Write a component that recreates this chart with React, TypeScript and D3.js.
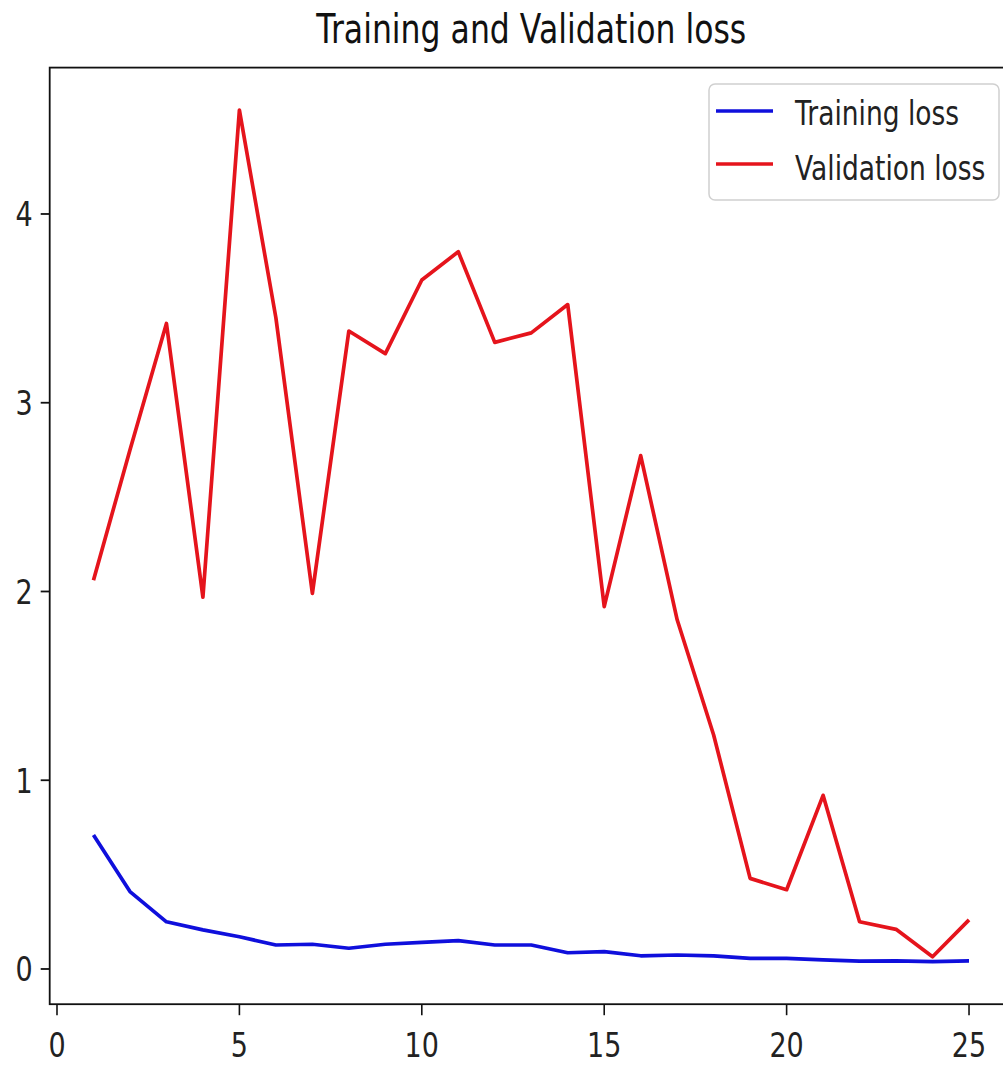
import * as d3 from "d3";

const epochs = [1, 2, 3, 4, 5, 6, 7, 8, 9, 10, 11, 12, 13, 14, 15, 16, 17, 18, 19, 20, 21, 22, 23, 24, 25];
const trainingLoss = [0.71, 0.41, 0.25, 0.207, 0.171, 0.127, 0.131, 0.11, 0.131, 0.141, 0.15, 0.127, 0.127, 0.086, 0.092, 0.07, 0.074, 0.069, 0.056, 0.056, 0.048, 0.042, 0.043, 0.039, 0.043];
const validationLoss = [2.06, 2.75, 3.42, 1.97, 4.55, 3.45, 1.99, 3.38, 3.26, 3.65, 3.8, 3.32, 3.37, 3.52, 1.92, 2.72, 1.85, 1.24, 0.48, 0.42, 0.92, 0.25, 0.21, 0.065, 0.26];
const xTicks = [0, 5, 10, 15, 20, 25];
const yTicks = [0, 1, 2, 3, 4];
const seriesNames = ["Training loss", "Validation loss"];
const seriesColors = ["#0f0fdc", "#e5141c"];

const W = 1003;
const H = 1066;
// the picture is stretched vertically, so text gets squashed back with this
const SY = 1.27;
const FONT = "DejaVu Sans, Liberation Sans, sans-serif";

export default function App() {
  // matplotlib style 5% margins
  const xPad = (d3.max(epochs)! - d3.min(epochs)!) * 0.05;
  const allY = [...trainingLoss, ...validationLoss];
  const yMin = d3.min(allY)!;
  const yMax = d3.max(allY)!;
  const yPad = (yMax - yMin) * 0.05;

  const xScale = d3
    .scaleLinear()
    .domain([d3.min(epochs)! - xPad, d3.max(epochs)! + xPad])
    .range([49.7, 1012.8]);
  const yScale = d3
    .scaleLinear()
    .domain([yMin - yPad, yMax + yPad])
    .range([1004.2, 67.6]);

  const line = d3
    .line<number>()
    .x((_, i) => xScale(epochs[i]))
    .y((d) => yScale(d));

  const [x0, x1] = xScale.range();
  const [yb, yt] = yScale.range();

  return (
    <svg width={W} height={H} style={{ position: "absolute", left: 0, top: 0, background: "#fff" }}>
      <rect x={0} y={0} width={W} height={H} fill="#fff" />

      {/* title */}
      <text
        transform={`translate(${(x0 + x1) / 2},43) scale(1,${SY})`}
        textAnchor="middle"
        fontFamily={FONT}
        fontSize={31.5}
        fill="#111"
      >
        Training and Validation loss
      </text>

      {/* series */}
      <path d={line(trainingLoss)!} fill="none" stroke={seriesColors[0]} strokeWidth={3.7} strokeLinejoin="round" />
      <path d={line(validationLoss)!} fill="none" stroke={seriesColors[1]} strokeWidth={3.7} strokeLinejoin="round" />

      {/* spines */}
      <rect x={x0} y={yt} width={x1 - x0} height={yb - yt} fill="none" stroke="#111" strokeWidth={1.8} />

      {/* x ticks */}
      {xTicks.map((t) => (
        <g key={"x" + t}>
          <line x1={xScale(t)} x2={xScale(t)} y1={yb} y2={yb + 11} stroke="#111" strokeWidth={1.6} />
          <text
            transform={`translate(${xScale(t)},${1057}) scale(1,${SY})`}
            textAnchor="middle"
            fontFamily={FONT}
            fontSize={27}
            fill="#222"
          >
            {t}
          </text>
        </g>
      ))}

      {/* y ticks */}
      {yTicks.map((t) => (
        <g key={"y" + t}>
          <line x1={x0 - 9} x2={x0} y1={yScale(t)} y2={yScale(t)} stroke="#111" strokeWidth={1.8} />
          <text
            transform={`translate(${x0 - 17},${yScale(t) + 12.5}) scale(1,${SY})`}
            textAnchor="end"
            fontFamily={FONT}
            fontSize={27}
            fill="#222"
          >
            {t}
          </text>
        </g>
      ))}

      {/* legend */}
      <g>
        <rect x={709} y={84} width={290} height={116} rx={6} fill="#fff" fillOpacity={0.8} stroke="#d0d0d0" strokeWidth={1.5} />
        {seriesNames.map((name, i) => (
          <g key={name}>
            <line x1={716} x2={773} y1={111 + i * 53} y2={111 + i * 53} stroke={seriesColors[i]} strokeWidth={3.7} />
            <text
              transform={`translate(795,${125 + i * 55}) scale(1,${SY})`}
              fontFamily={FONT}
              fontSize={26.5}
              fill="#222"
            >
              {name}
            </text>
          </g>
        ))}
      </g>
    </svg>
  );
}
